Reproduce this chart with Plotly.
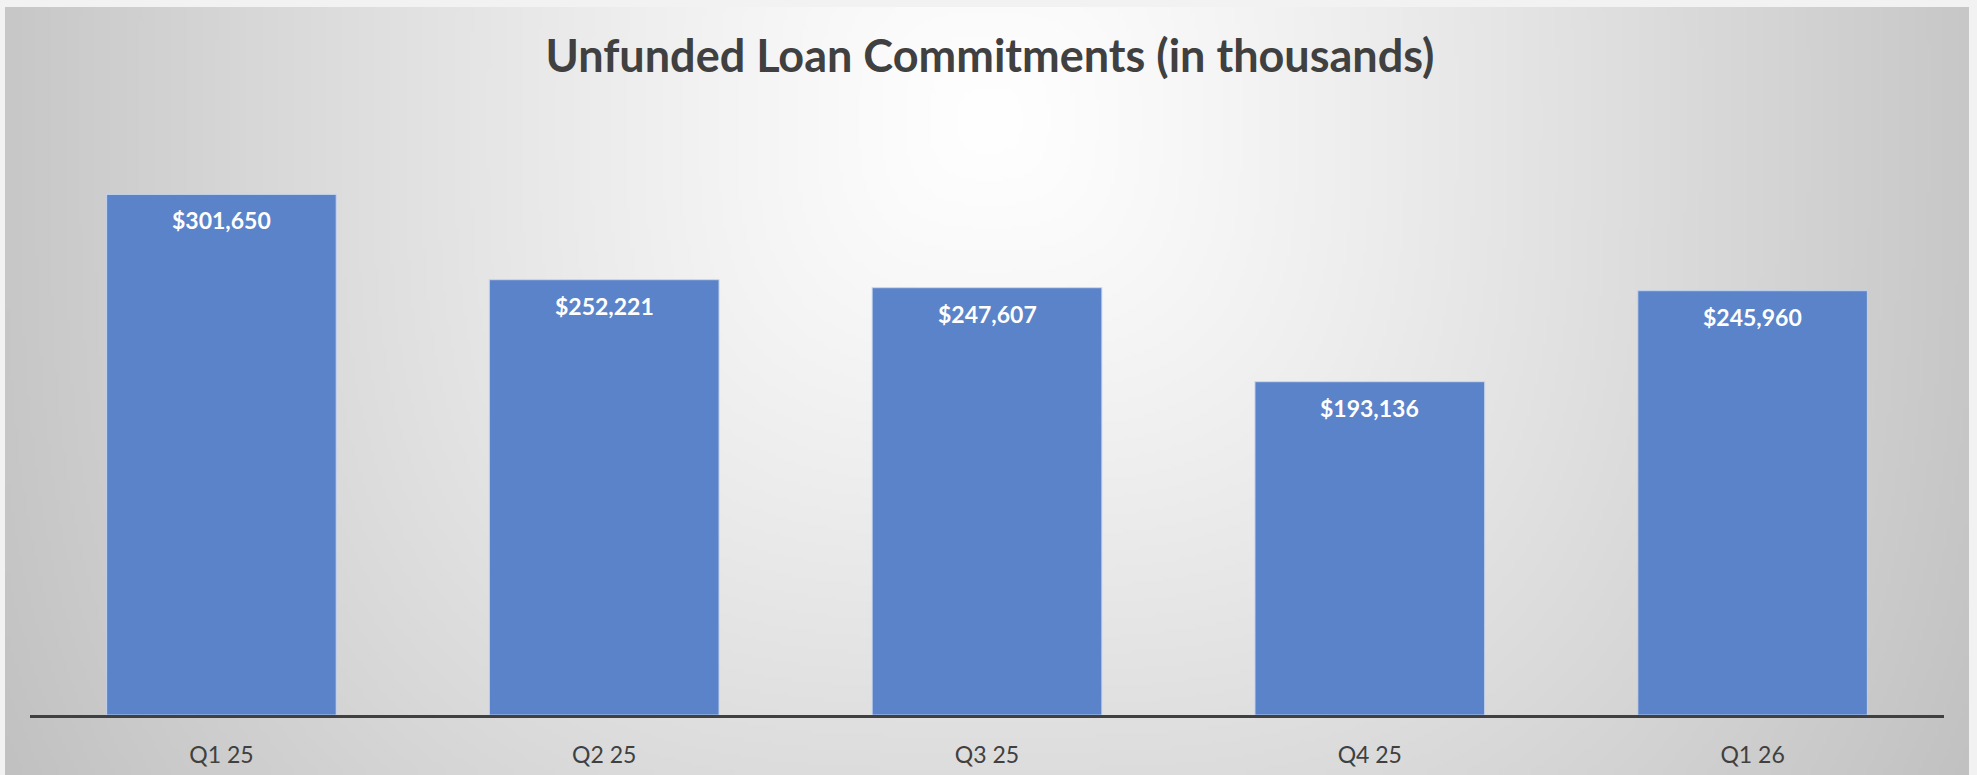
import base64
import struct
import zlib

import numpy as np
import plotly.graph_objects as go

# ---- data ----
categories = ["Q1 25", "Q2 25", "Q3 25", "Q4 25", "Q1 26"]
values = [301650, 252221, 247607, 193136, 245960]
labels = ["$301,650", "$252,221", "$247,607", "$193,136", "$245,960"]
title_text = "Unfunded Loan Commitments (in thousands)"

# ---- figure geometry (pixels) ----
FIG_W, FIG_H = 1977, 775
M_L, M_R, M_T, M_B = 30, 33, 111, 60
PLOT_W = FIG_W - M_L - M_R
PLOT_H = FIG_H - M_T - M_B
FRAME = dict(x0=5, y0=7, x1=1969, y1=775)


def gradient_png(w, h):
    """Soft grey gradient (white at top-centre) encoded as a PNG data URI."""
    xs = FRAME["x0"] + (np.arange(w) + 0.5) * (FRAME["x1"] - FRAME["x0"]) / w
    ys = FRAME["y0"] + (np.arange(h) + 0.5) * (FRAME["y1"] - FRAME["y0"]) / h
    X, Y = np.meshgrid(xs, ys)
    p = 3.0
    d = (np.abs((X - 990) / 1000) ** p + np.abs((Y - 120) / 1000) ** p) ** (1 / p)
    v = np.clip(255 - 57 * d ** 1.2, 185, 255).astype(np.uint8)
    raw = b"".join(b"\x00" + v[r].tobytes() for r in range(h))

    def chunk(tag, data):
        c = struct.pack(">I", len(data)) + tag + data
        return c + struct.pack(">I", zlib.crc32(tag + data) & 0xFFFFFFFF)

    png = b"\x89PNG\r\n\x1a\n"
    png += chunk(b"IHDR", struct.pack(">IIBBBBB", w, h, 8, 0, 0, 0, 0))
    png += chunk(b"IDAT", zlib.compress(raw, 9))
    png += chunk(b"IEND", b"")
    return "data:image/png;base64," + base64.b64encode(png).decode()


def px_to_paper_x(px):
    return (px - M_L) / PLOT_W


def px_to_paper_y(py):
    return (FIG_H - M_B - py) / PLOT_H


fig = go.Figure()
fig.add_trace(
    go.Bar(
        x=categories,
        y=values,
        width=0.6,
        marker=dict(color="#5B83C9", line=dict(color="rgba(200,215,240,0.8)", width=1.2)),
        hoverinfo="skip",
    )
)

for c, v, t in zip(categories, values, labels):
    fig.add_annotation(
        x=c, y=v, text=t, showarrow=False, xanchor="center", yanchor="middle",
        yshift=-26, font=dict(family="Lato", size=23, color="white", weight="bold"),
    )

fig.add_layout_image(
    dict(
        source=gradient_png(491, 192),
        xref="paper", yref="paper",
        x=px_to_paper_x(FRAME["x0"]), y=px_to_paper_y(FRAME["y0"]),
        sizex=(FRAME["x1"] - FRAME["x0"]) / PLOT_W,
        sizey=(FRAME["y1"] - FRAME["y0"]) / PLOT_H,
        xanchor="left", yanchor="top", sizing="stretch", layer="below",
    )
)

fig.update_layout(
    width=FIG_W, height=FIG_H,
    margin=dict(l=M_L, r=M_R, t=M_T, b=M_B, pad=0, autoexpand=False),
    paper_bgcolor="#f2f2f2",
    plot_bgcolor="rgba(0,0,0,0)",
    showlegend=False,
    title=dict(
        text=title_text, x=990 / FIG_W,
        xanchor="center", xref="container",
        y=1 - 56 / FIG_H, yanchor="middle", yref="container",
        font=dict(family="Lato", size=45, color="#404040", weight="bold"),
    ),
    xaxis=dict(
        range=[-0.5, 4.5], showline=True, linecolor="#404040", linewidth=3,
        showgrid=False, zeroline=False, ticks="", ticklabelstandoff=17,
        tickfont=dict(family="Lato", size=23, color="#404040"),
        fixedrange=True, automargin=False,
    ),
    yaxis=dict(range=[0, 350000], visible=False, fixedrange=True, automargin=False),
)

fig.write_html(
    "out.html",
    config={"displayModeBar": False},
    post_script="document.body.style.margin='0';document.body.style.overflow='hidden';",
)
